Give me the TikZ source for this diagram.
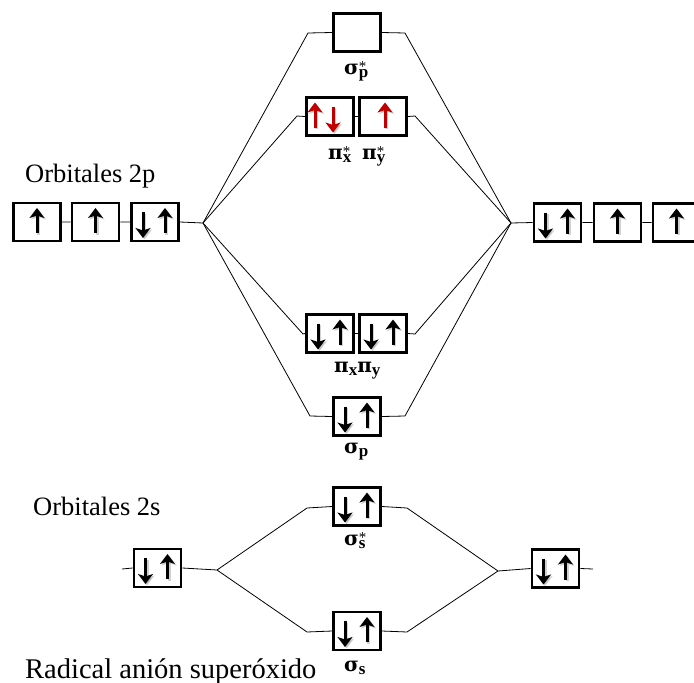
\documentclass[tikz,border=0pt]{standalone}
\usepackage{fontspec}
\setmainfont{Liberation Serif}
\newfontfamily\grk{DejaVu Serif}
\usetikzlibrary{arrows.meta}
\definecolor{spinred}{RGB}{192,0,0}
\tikzset{
  orb/.style={draw=black, line width=2.8pt, minimum width=47pt, minimum height=38pt, inner sep=0pt, fill=white},
  conn/.style={draw=black, line width=0.8pt},
  spin/.style={line width=3pt, -{Stealth[length=10pt,width=15pt,inset=2.5pt]}},
  shad/.style={spin, draw=black!35, fill=black!35, opacity=0.5},
  lbl/.style={font=\fontsize{20}{21}\selectfont\bfseries, inner sep=0pt, anchor=base west},
  ttl/.style={font=\fontsize{26.5}{27}\selectfont, inner sep=0pt, anchor=base west}
}
\newcommand{\orbl}[3]{{\grk #1}\rlap{\raisebox{3pt}{\fontsize{15}{15}\selectfont\mdseries #3}}\raisebox{-3.5pt}{\fontsize{17}{17}\selectfont #2}}
\newcommand{\upar}[3][black]{% color, node, dx
  \draw[shad] ([xshift=#3pt+1.5pt,yshift=-12.5pt]#2.center) -- ([xshift=#3pt+1.5pt,yshift=12.5pt]#2.center);
  \draw[spin,draw=#1,fill=#1] ([xshift=#3pt,yshift=-11pt]#2.center) -- ([xshift=#3pt,yshift=14pt]#2.center);}
\newcommand{\dnar}[3][black]{%
  \draw[shad] ([xshift=#3pt+1.5pt,yshift=8.5pt]#2.center) -- ([xshift=#3pt+1.5pt,yshift=-17.5pt]#2.center);
  \draw[spin,draw=#1,fill=#1] ([xshift=#3pt,yshift=10pt]#2.center) -- ([xshift=#3pt,yshift=-16pt]#2.center);}
\newcommand{\pairar}[1]{\dnar{#1}{-12}\upar{#1}{10}}
\begin{document}
\begin{tikzpicture}[x=1pt,y=-1pt]
\useasboundingbox (0,0) rectangle (694,683);
\clip (0,0) rectangle (694,683);
% boxes
\node[orb] (L1) at (37,222) {};
\node[orb] (L2) at (95.5,222) {};
\node[orb] (L3) at (155,222) {};
\node[orb] (R1) at (557.5,222.5) {};
\node[orb] (R2) at (617.5,222.5) {};
\node[orb] (R3) at (676.5,222.5) {};
\node[orb] (SPs) at (357,32.5) {};
\node[orb] (PXs) at (330,116.5) {};
\node[orb] (PYs) at (383,116.5) {};
\node[orb] (PX) at (330,333.5) {};
\node[orb] (PY) at (383,333.5) {};
\node[orb] (SP) at (357,416.5) {};
\node[orb] (S2L) at (157.5,568) {};
\node[orb] (S2R) at (555.5,568.5) {};
\node[orb] (SSs) at (357,506.5) {};
\node[orb] (SS) at (357,631) {};
% coordinates
\coordinate (cL) at (203,223);
\coordinate (cR) at (511,223);
\coordinate (c2L) at (217,570);
\coordinate (c2R) at (498,571);
\coordinate (bSsL) at (308,33);  \coordinate (bSsR) at (405,33);
\coordinate (bPsL) at (297,116); \coordinate (bPsR) at (415,116);
\coordinate (bPL) at (303,334);  \coordinate (bPR) at (415,334);
\coordinate (bSL) at (310,416);  \coordinate (bSR) at (405,416);
\coordinate (bSssL) at (307,508); \coordinate (bSssR) at (407,508);
\coordinate (bSsbL) at (307,632); \coordinate (bSsbR) at (407,632);
\coordinate (stL) at (122,569);
\coordinate (stR) at (593,569);
% connectors
\draw[conn] (L1.east) -- (L2.west) (L2.east) -- (L3.west) (L3.east) -- (cL);
\draw[conn] (cR) -- (R1.west) (R1.east) -- (R2.west) (R2.east) -- (R3.west);
\draw[conn] (cL) -- (bSsL) -- (SPs.west) (SPs.east) -- (bSsR) -- (cR);
\draw[conn] (cL) -- (bPsL) -- (PXs.west) (PXs.east) -- (PYs.west) (PYs.east) -- (bPsR) -- (cR);
\draw[conn] (cL) -- (bPL) -- (PX.west) (PX.east) -- (PY.west) (PY.east) -- (bPR) -- (cR);
\draw[conn] (cL) -- (bSL) -- (SP.west) (SP.east) -- (bSR) -- (cR);
\draw[conn] (stL) -- (S2L.west) (S2L.east) -- (c2L);
\draw[conn] (c2L) -- (bSssL) -- (SSs.west) (SSs.east) -- (bSssR) -- (c2R);
\draw[conn] (c2L) -- (bSsbL) -- (SS.west) (SS.east) -- (bSsbR) -- (c2R);
\draw[conn] (c2R) -- (S2R.west) (S2R.east) -- (stR);
% spins
\upar{L1}{0}\upar{L2}{0}\pairar{L3}
\pairar{R1}\upar{R2}{0}\upar{R3}{0}
\upar[spinred]{PXs}{-15}\dnar[spinred]{PXs}{3}\upar[spinred]{PYs}{2}
\pairar{PX}\pairar{PY}\pairar{SP}
\pairar{S2L}\pairar{S2R}\pairar{SSs}\pairar{SS}
% labels
\node[ttl] (t2p) at (25,182) {Orbitales 2p};
\node[ttl] (t2s) at (33,515) {Orbitales 2s};
\node[ttl, font=\fontsize{28.5}{29}\selectfont] (trad) at (25,678) {Radical anión superóxido};
\node[lbl] (lSPs) at (344,74) {\orbl{σ}{p}{*}};
\node[lbl] (lPXs) at (328,159) {\orbl{π}{x}{*}};
\node[lbl] (lPYs) at (362,159) {\orbl{π}{y}{*}};
\node[lbl] (lP) at (334,372) {\orbl{π}{x}{}\orbl{π}{y}{}};
\node[lbl] (lSP) at (344,453) {\orbl{σ}{p}{}};
\node[lbl] (lSSs) at (344,545) {\orbl{σ}{s}{*}};
\node[lbl] (lSS) at (344,671) {\orbl{σ}{s}{}};
\end{tikzpicture}
\end{document}
